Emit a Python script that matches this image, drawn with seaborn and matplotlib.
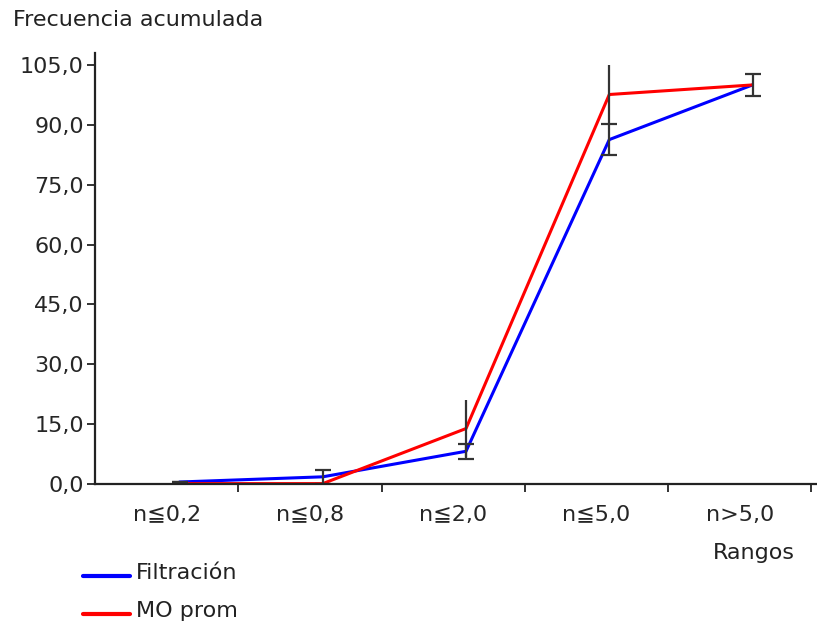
import matplotlib
matplotlib.use("Agg")
import matplotlib.pyplot as plt
import seaborn as sns
import pandas as pd

# data
rangos = ["n≦0,2", "n≦0,8", "n≦2,0", "n≦5,0", "n>5,0"]
filtracion = [0.5, 1.8, 8.2, 86.3, 100.0]
filtracion_err = [0.0, 1.7, 1.9, 3.9, 2.8]
mo_prom = [0.1, 0.1, 13.9, 97.6, 100.0]
mo_prom_err = [0.0, 0.0, 7.2, 7.4, 0.0]
yticks = [0, 15, 30, 45, 60, 75, 90, 105]

sns.set_style("ticks")
plt.rcParams["font.family"] = ["DejaVu Sans"]
fs = 16

df = pd.DataFrame({
    "pos": list(range(len(rangos))) * 2,
    "valor": filtracion + mo_prom,
    "serie": ["Filtración"] * len(rangos) + ["MO prom"] * len(rangos),
})

fig = plt.figure(figsize=(8.17, 6.26), dpi=100)
ax = fig.add_axes([95 / 817, 1 - 484 / 626, 1 - 95 / 817, (484 - 53) / 626])

sns.lineplot(data=df, x="pos", y="valor", hue="serie",
             palette={"Filtración": "#0000ff", "MO prom": "#ff0000"},
             linewidth=2.2, ax=ax, legend=False)

x = list(range(len(rangos)))
ax.errorbar(x, filtracion, yerr=filtracion_err, fmt="none",
            ecolor="#333333", elinewidth=1.6, capsize=6, capthick=1.6)
ax.errorbar(x, mo_prom, yerr=mo_prom_err, fmt="none",
            ecolor="#333333", elinewidth=1.6, capsize=0)

ax.set_xlim(-0.59, 4.45)
ax.set_ylim(0, 108)
ax.set_yticks(yticks)
ax.set_yticklabels([f"{v:.1f}".replace(".", ",") for v in yticks], fontsize=fs)

# boundaries as tick marks, labels centred in the gaps
ax.set_xticks([i + 0.41 for i in range(5)])
ax.set_xticklabels([])
ax.set_xticks([i - 0.09 for i in range(5)], rangos, minor=True, fontsize=fs)
ax.tick_params(axis="x", which="minor", length=0, pad=15)
ax.tick_params(axis="x", which="major", length=6, width=1.4, color="#333333")
ax.tick_params(axis="y", length=6, width=1.4, color="#333333", pad=2)
ax.set_xlabel("")
ax.set_ylabel("")

sns.despine(ax=ax)
for s in ["left", "bottom"]:
    ax.spines[s].set_linewidth(1.6)
    ax.spines[s].set_color("#222222")

fig.text(13 / 817, 1 - 20 / 626, "Frecuencia acumulada", fontsize=fs,
         va="center", ha="left", color="#222222")
fig.text(795 / 817, 1 - 553 / 626, "Rangos", fontsize=fs,
         va="center", ha="right", color="#222222")

# legend drawn by hand at the lower left
for i, (name, col) in enumerate([("Filtración", "#0000ff"), ("MO prom", "#ff0000")]):
    yy = 1 - (576 + 38 * i) / 626
    fig.add_artist(plt.Line2D([83 / 817, 130 / 817], [yy, yy], color=col, lw=3))
    fig.text(136 / 817, yy + 0.004, name, fontsize=fs, va="center", ha="left",
             color="#222222")

fig.savefig("out.png", dpi=100)
